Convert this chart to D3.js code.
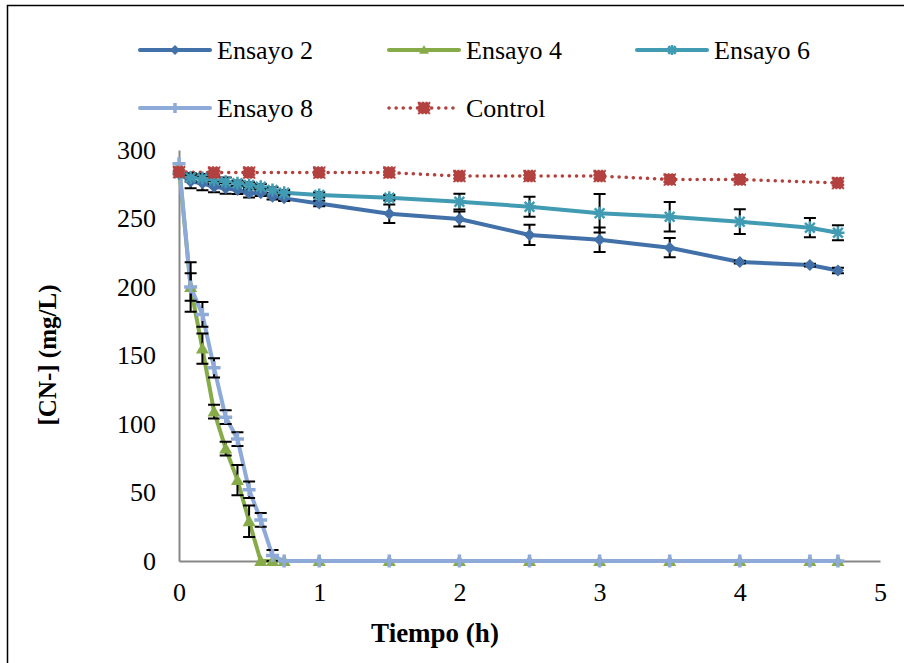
<!DOCTYPE html>
<html><head><meta charset="utf-8">
<script src="https://cdn.jsdelivr.net/npm/d3@7/dist/d3.min.js"></script>
<style>
body{margin:0;background:#fff;}
svg text{font-family:"Liberation Serif","Times New Roman",Times,"DejaVu Serif",serif !important;}
</style></head>
<body><svg id="c" width="904" height="663"></svg>
<script>
const times = [0, 0.083, 0.167, 0.25, 0.333, 0.417, 0.5, 0.583, 0.667, 0.75, 1, 1.5, 2, 2.5, 3, 3.5, 4, 4.5, 4.7];
const controlTimes = [0, 0.25, 0.5, 1, 1.5, 2, 2.5, 3, 3.5, 4, 4.7];
const ensayo2 = [283, 277, 275.7, 273.2, 272, 270.8, 268.4, 268.4, 265.9, 264.7, 261, 253.5, 249.6, 238, 234.5, 228.7, 218.2, 216, 212];
const ensayo2Err = [0, 5, 5, 4, 4, 3, 3, 2, 2, 2, 2, 6.7, 5.5, 7.4, 9, 7, 1, 1, 2];
const ensayo4 = [288, 200, 155, 109, 82, 59, 29, 0, 0, 0, 0, 0, 0, 0, 0, 0, 0, 0, 0];
const ensayo4Err = [0, 10, 11, 5, 5, 11, 11.5, 0, 0, 0, 0, 0, 0, 0, 0, 0, 0, 0, 0];
const ensayo6 = [283, 280, 279.5, 278.1, 276.9, 275.7, 274.5, 273.2, 270.8, 268.8, 267.2, 265.2, 262.3, 258.6, 253.8, 251.3, 247.7, 243.3, 239.6];
const ensayo6Err = [0, 3, 3, 3, 3, 2, 2, 2, 2, 2, 2, 2, 5.7, 7.3, 14, 10.7, 9, 7, 5.5];
const ensayo8 = [290, 200, 180, 141, 105, 89, 52, 30, 4, 0, 0, 0, 0, 0, 0, 0, 0, 0, 0];
const ensayo8Err = [0, 18, 9, 7, 5, 5, 6, 5, 4, 0, 0, 0, 0, 0, 0, 0, 0, 0, 0];
const control = [284, 283.5, 283.5, 283.5, 283.5, 281, 281, 281, 278.5, 278.5, 276];
const xTicks = [0, 1, 2, 3, 4, 5];
const yTicks = [0, 50, 100, 150, 200, 250, 300];
const seriesNames = ["Ensayo 2", "Ensayo 4", "Ensayo 6", "Ensayo 8", "Control"];

const FONT = '"Liberation Serif","Times New Roman",Times,"DejaVu Serif",serif';
const svg = d3.select("#c");
const x = d3.scaleLinear().domain([0, 5]).range([179, 880]);
const y = d3.scaleLinear().domain([0, 300]).range([561, 150]);

svg.append("path").attr("d", "M7.5,700 V5.5 H1000").attr("fill", "none").attr("stroke", "#000").attr("stroke-width", 1.5);

const series = [
  {name: seriesNames[0], t: times, v: ensayo2, e: ensayo2Err, color: "#4270a9", marker: "diamond", dash: null},
  {name: seriesNames[1], t: times, v: ensayo4, e: ensayo4Err, color: "#86ab48", marker: "triangle", dash: null},
  {name: seriesNames[2], t: times, v: ensayo6, e: ensayo6Err, color: "#419bb3", marker: "star", dash: null},
  {name: seriesNames[3], t: times, v: ensayo8, e: ensayo8Err, color: "#8eaad8", marker: "plus", dash: null},
  {name: seriesNames[4], t: controlTimes, v: control, e: null, color: "#b3413f", marker: "square", dash: "0.1 7"}
];

const gx = svg.append("g").attr("transform", "translate(0,561)")
  .call(d3.axisBottom(x).tickValues(xTicks).tickSize(0).tickPadding(22).tickFormat(d3.format("d")));
const gy = svg.append("g").attr("transform", "translate(179,0)")
  .call(d3.axisLeft(y).tickValues(yTicks).tickSize(0).tickPadding(23).tickFormat(d3.format("d")));
[gx, gy].forEach(g => {
  g.attr("font-family", FONT).attr("font-size", 26);
  g.select(".domain").attr("stroke", "#878787").attr("stroke-width", 2);
  g.selectAll("text").attr("fill", "#000").style("font-family", FONT).style("font-size", "26px");
});

svg.append("text").attr("x", 435).attr("y", 642).attr("text-anchor", "middle")
  .style("font-family", FONT).style("font-size", "27px").attr("font-weight", "bold").text("Tiempo (h)");
svg.append("text").attr("transform", "translate(56,355) rotate(-90)").attr("text-anchor", "middle")
  .style("font-family", FONT).style("font-size", "25px").attr("font-weight", "bold").text("[CN-] (mg/L)");

function drawMarker(g, type, cx, cy, color, s) {
  if (type === "diamond") {
    g.append("path").attr("d", `M${cx},${cy - s} L${cx + s},${cy} L${cx},${cy + s} L${cx - s},${cy} Z`).attr("fill", color);
  } else if (type === "triangle") {
    g.append("path").attr("d", `M${cx},${cy - s} L${cx + s},${cy + s * 0.75} L${cx - s},${cy + s * 0.75} Z`).attr("fill", color);
  } else if (type === "square") {
    g.append("rect").attr("x", cx - s).attr("y", cy - s).attr("width", 2 * s).attr("height", 2 * s)
      .attr("fill", color).attr("stroke", color).attr("stroke-width", 1.5).attr("stroke-dasharray", "2 1.5");
  } else if (type === "star") {
    const d = s * 0.75;
    g.append("path").attr("d", `M${cx},${cy - s} V${cy + s} M${cx - d},${cy - d} L${cx + d},${cy + d} M${cx - d},${cy + d} L${cx + d},${cy - d} M${cx - s},${cy} H${cx + s}`)
      .attr("stroke", color).attr("stroke-width", 2.5).attr("fill", "none");
  } else if (type === "plus") {
    g.append("path").attr("d", `M${cx},${cy - s} V${cy + s} M${cx - s},${cy} H${cx + s}`)
      .attr("stroke", color).attr("stroke-width", 3.5).attr("fill", "none");
  }
}

const line = d3.line().x(d => x(d[0])).y(d => y(d[1]));
const markerSize = {diamond: 6, triangle: 6.5, star: 6.5, plus: 6.5, square: 5.5};

series.forEach(s => {
  const pts = s.t.map((t, i) => [t, s.v[i]]);
  const p = svg.append("path").datum(pts).attr("d", line).attr("fill", "none")
    .attr("stroke", s.color).attr("stroke-width", s.dash ? 3.5 : 4).attr("stroke-linejoin", "round")
    .attr("stroke-linecap", "round");
  if (s.dash) p.attr("stroke-dasharray", s.dash);
});
series.forEach(s => {
  if (!s.e) return;
  s.t.forEach((t, i) => {
    const e = s.e[i];
    if (!e) return;
    const cx = x(t), y1 = y(s.v[i] + e), y2 = y(s.v[i] - e);
    svg.append("path").attr("d", `M${cx},${y1} V${y2} M${cx - 6},${y1} H${cx + 6} M${cx - 6},${y2} H${cx + 6}`)
      .attr("stroke", "#000").attr("stroke-width", 2).attr("fill", "none");
  });
});
series.forEach(s => {
  const g = svg.append("g");
  s.t.forEach((t, i) => drawMarker(g, s.marker, x(t), y(s.v[i]), s.color, markerSize[s.marker]));
});

const legendPos = [[140, 50], [389, 50], [637, 50], [140, 108], [389, 108]];
series.forEach((s, i) => {
  const [lx, ly] = legendPos[i];
  const g = svg.append("g");
  const l = g.append("line").attr("x1", lx).attr("x2", lx + 70).attr("y1", ly).attr("y2", ly)
    .attr("stroke", s.color).attr("stroke-width", s.dash ? 3.5 : 4).attr("stroke-linecap", "round");
  if (s.dash) l.attr("stroke-dasharray", s.dash);
  drawMarker(g, s.marker, lx + 35, ly, s.color, s.marker === "square" ? 5.5 : 5);
  g.append("text").attr("x", lx + 77).attr("y", ly + 9).style("font-family", FONT).style("font-size", "26px").text(s.name);
});
</script></body></html>
